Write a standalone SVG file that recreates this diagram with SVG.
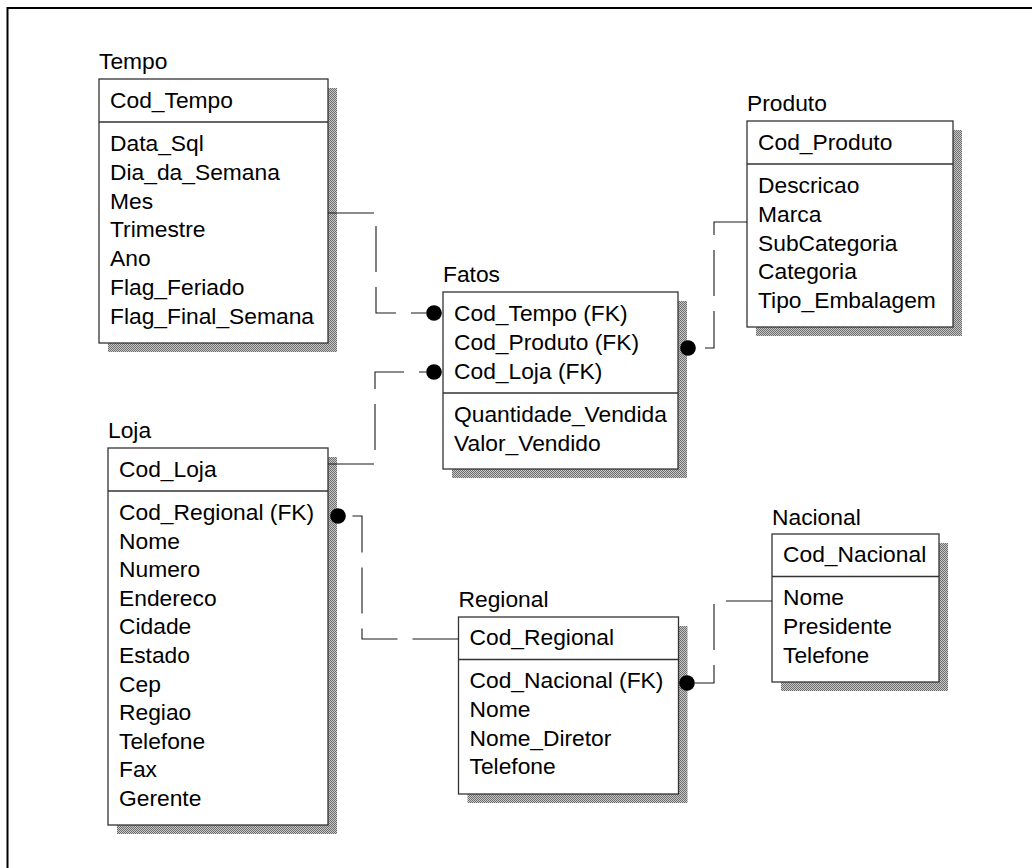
<svg xmlns="http://www.w3.org/2000/svg" width="1032" height="868" viewBox="0 0 1032 868">
  <defs>
    <!-- dithered grey used for the drop shadows -->
    <pattern id="dither" width="2" height="2" patternUnits="userSpaceOnUse">
      <rect width="2" height="2" fill="#c8c8c8"/>
      <rect width="1" height="1" fill="#6e6e6e"/>
      <rect x="1" y="1" width="1" height="1" fill="#6e6e6e"/>
    </pattern>
    <style>
      text { font-family: "Liberation Sans", Arial, sans-serif; font-size: 22.8px; fill: #000; }
      .shadow { fill: url(#dither); }
      .box { fill: #fff; stroke: #333; stroke-width: 1.3; }
      .div { stroke: #333; stroke-width: 1.3; }
      .rel { fill: none; stroke: #1a1a1a; stroke-width: 1.1; stroke-dasharray: 46 15; }
      .dot { fill: #000; }
      .frame { fill: none; stroke: #000; stroke-width: 2; }
    </style>
  </defs>

  <rect width="1032" height="868" fill="#fff"/>
  <path class="frame" d="M7.5,868 V8 H1032"/>

  <g id="tempo">
    <rect class="shadow" x="108" y="88" width="229" height="264"/>
    <rect class="box" x="99" y="79" width="229" height="264"/>
    <line class="div" x1="99" y1="122" x2="328" y2="122"/>
    <text x="99" y="69">Tempo</text>
    <text x="110" y="108">Cod_Tempo</text>
    <text x="110" y="151">Data_Sql</text>
    <text x="110" y="179.8">Dia_da_Semana</text>
    <text x="110" y="208.6">Mes</text>
    <text x="110" y="237.4">Trimestre</text>
    <text x="110" y="266.2">Ano</text>
    <text x="110" y="295">Flag_Feriado</text>
    <text x="110" y="323.8">Flag_Final_Semana</text>
  </g>

  <g id="fatos">
    <rect class="shadow" x="452" y="301" width="235" height="177"/>
    <rect class="box" x="443" y="292" width="235" height="177"/>
    <line class="div" x1="443" y1="393" x2="678" y2="393"/>
    <text x="443" y="282">Fatos</text>
    <text x="454" y="321">Cod_Tempo (FK)</text>
    <text x="454" y="350">Cod_Produto (FK)</text>
    <text x="454" y="379">Cod_Loja (FK)</text>
    <text x="454" y="422">Quantidade_Vendida</text>
    <text x="454" y="451">Valor_Vendido</text>
  </g>

  <g id="produto">
    <rect class="shadow" x="756" y="130" width="206" height="206"/>
    <rect class="box" x="747" y="121" width="206" height="206"/>
    <line class="div" x1="747" y1="164" x2="953" y2="164"/>
    <text x="747" y="111">Produto</text>
    <text x="758" y="150">Cod_Produto</text>
    <text x="758" y="193">Descricao</text>
    <text x="758" y="221.8">Marca</text>
    <text x="758" y="250.6">SubCategoria</text>
    <text x="758" y="279.4">Categoria</text>
    <text x="758" y="308.2">Tipo_Embalagem</text>
  </g>

  <g id="loja">
    <rect class="shadow" x="117" y="457" width="220" height="377"/>
    <rect class="box" x="108" y="448" width="220" height="377"/>
    <line class="div" x1="108" y1="491" x2="328" y2="491"/>
    <text x="108" y="438">Loja</text>
    <text x="119" y="477">Cod_Loja</text>
    <text x="119" y="520">Cod_Regional (FK)</text>
    <text x="119" y="548.6">Nome</text>
    <text x="119" y="577.2">Numero</text>
    <text x="119" y="605.8">Endereco</text>
    <text x="119" y="634.4">Cidade</text>
    <text x="119" y="663">Estado</text>
    <text x="119" y="691.6">Cep</text>
    <text x="119" y="720.2">Regiao</text>
    <text x="119" y="748.8">Telefone</text>
    <text x="119" y="777.4">Fax</text>
    <text x="119" y="806">Gerente</text>
  </g>

  <g id="regional">
    <rect class="shadow" x="467.5" y="626" width="220" height="177"/>
    <rect class="box" x="458.5" y="617" width="220" height="177"/>
    <line class="div" x1="458.5" y1="659.5" x2="678.5" y2="659.5"/>
    <text x="458.5" y="607">Regional</text>
    <text x="469.5" y="645">Cod_Regional</text>
    <text x="469.5" y="688">Cod_Nacional (FK)</text>
    <text x="469.5" y="716.8">Nome</text>
    <text x="469.5" y="745.6">Nome_Diretor</text>
    <text x="469.5" y="774.4">Telefone</text>
  </g>

  <g id="nacional">
    <rect class="shadow" x="781" y="543" width="167" height="148"/>
    <rect class="box" x="772" y="534" width="167" height="148"/>
    <line class="div" x1="772" y1="576.5" x2="939" y2="576.5"/>
    <text x="772" y="525">Nacional</text>
    <text x="783" y="562">Cod_Nacional</text>
    <text x="783" y="605.3">Nome</text>
    <text x="783" y="634.2">Presidente</text>
    <text x="783" y="663">Telefone</text>
  </g>

  <!-- relationships: dashed from parent key, dot on the child side -->
  <g id="connectors">
    <path class="rel" d="M328,213 H376 V313 H426"/>
    <circle class="dot" cx="434" cy="313" r="7.8"/>
    <path class="rel" d="M328,464 H375 V372 H426"/>
    <circle class="dot" cx="434" cy="372" r="7.8"/>
    <path class="rel" d="M747,222 H714 V348 H696"/>
    <circle class="dot" cx="688" cy="348" r="7.8"/>
    <path class="rel" d="M458.5,639 H362 V516 H346"/>
    <circle class="dot" cx="338" cy="516" r="7.8"/>
    <path class="rel" d="M772,601 H714 V683 H695"/>
    <circle class="dot" cx="687" cy="683" r="7.8"/>
  </g>
</svg>
